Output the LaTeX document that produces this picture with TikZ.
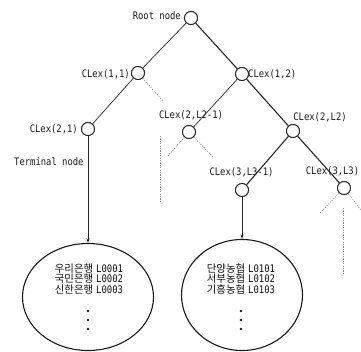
\documentclass[tikz,border=0pt]{standalone}
\usepackage{fontspec}
\usetikzlibrary{shapes.geometric,arrows.meta}
\newfontfamily\lblfont[FakeStretch=0.86]{DejaVu Sans Mono}
\newfontfamily\krfont{Noto Sans CJK KR}

\tikzset{
  treenode/.style={circle, draw=black!85, line width=0.9pt, fill=white, minimum size=13pt, inner sep=0pt},
  lbl/.style={font=\lblfont\fontsize{10.3}{11}\selectfont, text=black!90, inner sep=0pt},
  branch/.style={draw=black!80, line width=0.75pt},
  mainbranch/.style={draw=black!85, line width=1.1pt},
  stub/.style={draw=black!45, line width=0.6pt, dash pattern=on 1.2pt off 1.2pt},
  leafset/.style={ellipse, draw=black!90, line width=1.1pt, inner sep=0pt},
  leaftext/.style={align=center, inner sep=0pt, text=black!95,
    font=\krfont\fontsize{10.4}{9.2}\selectfont},
  toleaf/.style={draw=black!85, line width=0.7pt, -{Stealth[length=4.5pt,width=3pt]}},
  dot/.style={fill=black!90}
}

\begin{document}
\begin{tikzpicture}[x=1pt, y=-1pt]
\useasboundingbox (0,0) rectangle (361,351);

% tree nodes
\node[treenode] (root) at (191,18) {};
\node[treenode] (c11) at (138,73) {};
\node[treenode] (c12) at (242,74) {};
\node[treenode] (c21) at (88,129) {};
\node[treenode] (c2a) at (189,132) {};
\node[treenode] (c2b) at (293,131) {};
\node[treenode] (c3a) at (242,190) {};
\node[treenode] (c3b) at (344,188) {};

% leaf sets
\node[leafset, minimum width=131pt, minimum height=107pt] (leaf1) at (88,297) {};
\node[leafset, minimum width=121pt, minimum height=111pt] (leaf2) at (242,295) {};

% open ends of the elided branches
\coordinate (s11) at (163,101);
\coordinate (s2al) at (167,157);
\coordinate (s2ar) at (213,157);
\coordinate (s3bl) at (320,213);
\coordinate (s3br) at (364,214);
\coordinate (v1t) at (160,136);
\coordinate (v1b) at (160,203);
\coordinate (v2t) at (343,208);
\coordinate (v2b) at (343,273);

% branches
\draw[branch] (root) -- (c11);
\draw[mainbranch] (root) -- (c12);
\draw[branch] (c11) -- (c21);
\draw[branch] (c12) -- (c2a);
\draw[mainbranch] (c12) -- (c2b);
\draw[mainbranch] (c2b) -- (c3a);
\draw[mainbranch] (c2b) -- (c3b);

% elided branches
\draw[stub] (c11) -- (s11);
\draw[stub] (c2a) -- (s2al);
\draw[stub] (c2a) -- (s2ar);
\draw[stub] (c3b) -- (s3bl);
\draw[stub] (c3b) -- (s3br);
\draw[stub] (v1t) -- (v1b);
\draw[stub] (v2t) -- (v2b);

% links to leaf sets
\draw[toleaf] (c21) -- (leaf1.north);
\draw[toleaf] (c3a) -- (leaf2.north);

% redraw circles over the line ends
\foreach \n in {root,c11,c12,c21,c2a,c2b,c3a,c3b}
  \node[treenode] at (\n) {};

% labels
\node[lbl, anchor=east] (lroot) at (181,16) {Root node};
\node[lbl, anchor=east] (l11) at (130,74) {CLex(1,1)};
\node[lbl, anchor=west] (l12) at (248,74) {CLex(1,2)};
\node[lbl, anchor=east] (l21) at (78,129) {CLex(2,1)};
\node[lbl, anchor=west] (lterm) at (14,162) {Terminal node};
\node[lbl] (l2a) at (191,115) {CLex(2,L2-1)};
\node[lbl] (l2b) at (320,117) {CLex(2,L2)};
\node[lbl] (l3a) at (241.5,172) {CLex(3,L3-1)};
\node[lbl] (l3b) at (332.5,171) {CLex(3,L3)};

% leaf set contents
\node[leaftext] (t1) at (89,279) {우리은행\hspace{3pt}{\lblfont L0001}\\국민은행\hspace{3pt}{\lblfont L0002}\\신한은행\hspace{3pt}{\lblfont L0003}};
\node[leaftext] (t2) at (241,279) {단양농협\hspace{3pt}{\lblfont L0101}\\서부농협\hspace{3pt}{\lblfont L0102}\\기흥농협\hspace{3pt}{\lblfont L0103}};
\foreach \y in {311,320,329} {
  \fill[dot] (88,\y) circle (1.3pt);
  \fill[dot] (241,\y) circle (1.3pt);
}
\end{tikzpicture}
\end{document}
